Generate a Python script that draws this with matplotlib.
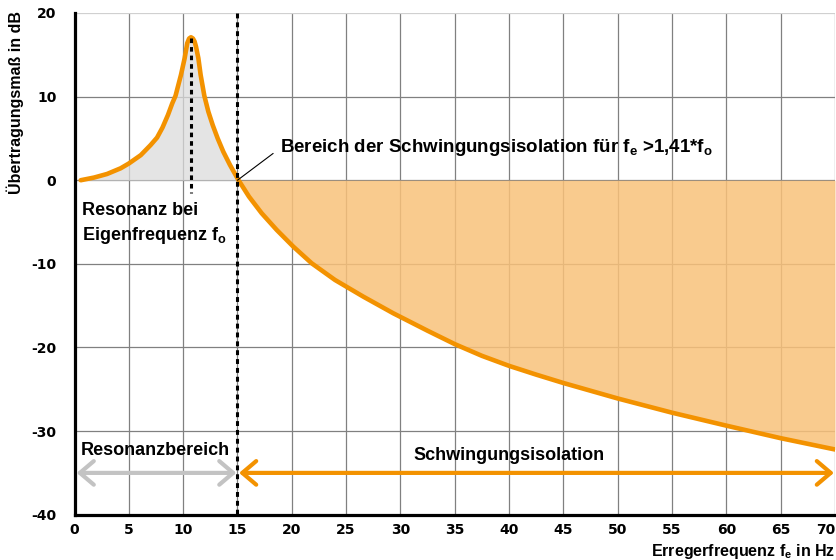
import numpy as np
import matplotlib
matplotlib.use("Agg")
import matplotlib.pyplot as plt
from matplotlib.patches import FancyArrowPatch

# ---- data ----
freq_hz = [0.57, 1.8, 3.0, 4.25, 5.0, 6.1, 7.0, 7.6, 8.1, 8.6, 9.0, 9.3, 9.8,
           10.14, 10.38, 10.55, 10.72, 10.9, 11.05, 11.18, 11.4, 11.61, 11.95,
           12.32, 12.72, 13.18, 13.7, 14.31, 15.1, 16.06, 17.23, 18.61, 20.14,
           21.83, 23.98, 26.58, 29.34, 32.5, 35.0, 37.5, 40.0, 42.5, 45.0, 50.0,
           55.0, 60.0, 65.0, 70.0]
gain_db = [0.0, 0.32, 0.75, 1.43, 2.0, 3.0, 4.2, 5.1, 6.3, 7.8, 9.2, 10.1, 12.6,
           14.6, 16.4, 16.95, 17.1, 16.95, 16.6, 16.0, 14.6, 12.6, 10.1,
           8.2, 6.6, 5.0, 3.4, 1.83, 0.0, -1.96, -3.95, -5.94, -7.94,
           -9.93, -11.93, -13.92, -15.91, -18.0, -19.6, -21.0, -22.2, -23.25, -24.25,
           -26.1, -27.8, -29.35, -30.85, -32.2]
crossing_hz = 15.1
boundary_hz = 15.0
peak_hz = 10.72
peak_db = 17.0
band_db = -35.0
resonance_band = [0.2, 14.9]
isolation_band = [15.15, 70.0]
x_ticks = [0, 5, 10, 15, 20, 25, 30, 35, 40, 45, 50, 55, 60, 65, 70]
y_ticks = [-40, -30, -20, -10, 0, 10, 20]

ORANGE = "#F39200"
ORANGE_FILL = "#F9C27A"
GRAY_FILL = "#DCDCDC"
GRAY_ARROW = "#C3C3C3"

plt.rcParams['font.family'] = ['Liberation Sans', 'DejaVu Sans']
plt.rcParams['font.weight'] = 'bold'
plt.rcParams['mathtext.fontset'] = 'custom'
plt.rcParams['mathtext.rm'] = 'Liberation Sans:bold'
plt.rcParams['mathtext.it'] = 'Liberation Sans:bold'
plt.rcParams['mathtext.bf'] = 'Liberation Sans:bold'
plt.rcParams['axes.unicode_minus'] = False

W, H = 836, 560
fig = plt.figure(figsize=(W / 100, H / 100), dpi=100)
L, R, T, B = 74.5, 835.0, 13.0, 514.7
ax = fig.add_axes([L / W, 1 - B / H, (R - L) / W, (B - T) / H])
ax.set_xlim(0, 70)
ax.set_ylim(-40, 20)

f = np.array(freq_hz)
g = np.array(gain_db)

# grid
ax.set_xticks(x_ticks)
ax.set_yticks(y_ticks)
ax.grid(True, color="#808080", lw=0.9, zorder=0)
ax.set_axisbelow(True)
ax.yaxis.get_gridlines()[-1].set_color("#D0D0D0")
ax.yaxis.get_gridlines()[-1].set_linewidth(1.6)

# fills
ax.fill_between(f, g, 0, where=f <= crossing_hz, color=GRAY_FILL, alpha=0.75,
                lw=0, zorder=1)
ax.fill_between(f, g, 0, where=f >= crossing_hz, color=ORANGE_FILL, alpha=0.85,
                lw=0, zorder=1)

# curve
ax.plot(f, g, color=ORANGE, lw=3.3, solid_joinstyle='round',
        solid_capstyle='round', zorder=4)

# dashed verticals
ax.plot([peak_hz, peak_hz], [peak_db, -1.5], color="black", lw=2.2,
        linestyle=(0, (1.5, 1.3)), zorder=5)
ax.plot([boundary_hz, boundary_hz], [20, -40], color="black", lw=2.2,
        linestyle=(0, (1.6, 1.3)), zorder=5, clip_on=False)

# arrows
a1 = FancyArrowPatch((resonance_band[0], band_db), (resonance_band[1], band_db),
                     arrowstyle="<->,head_length=10,head_width=8.5",
                     mutation_scale=1, color=GRAY_ARROW, lw=3.0,
                     shrinkA=0, shrinkB=0, zorder=4)
ax.add_patch(a1)
a2 = FancyArrowPatch((isolation_band[0], band_db), (isolation_band[1] - 0.1, band_db),
                     arrowstyle="<->,head_length=10,head_width=8.5",
                     mutation_scale=1, color=ORANGE, lw=3.0,
                     shrinkA=0, shrinkB=0, zorder=4, clip_on=False)
ax.add_patch(a2)

# texts
ax.text(0.66, -4.15, "Resonanz bei", fontsize=13, ha="left", va="baseline")
ax.text(0.66, -7.1, r"Eigenfrequenz f$_\mathrm{o}$", fontsize=13, ha="left",
        va="baseline")
ax.text(7.41, -32.86, "Resonanzbereich", fontsize=13, ha="center", va="baseline")
ax.text(40.04, -33.4, "Schwingungsisolation", fontsize=13, ha="center",
        va="baseline")
ax.annotate(r"Bereich der Schwingungsisolation für f$_\mathrm{e}$ >1,41*f$_\mathrm{o}$",
            xy=(boundary_hz, 0.0), xytext=(18.92, 3.42), fontsize=13.5,
            ha="left", va="baseline",
            arrowprops=dict(arrowstyle="-", color="black", lw=0.8,
                            shrinkA=0, shrinkB=0,
                            relpos=(-0.016, 0.2)),
            zorder=6)

# spines / ticks
for s in ("top", "right"):
    ax.spines[s].set_visible(False)
for s in ("left", "bottom"):
    ax.spines[s].set_color("black")
    ax.spines[s].set_linewidth(2.3)
    ax.spines[s].set_zorder(6)
ax.tick_params(axis="both", length=0)
ax.tick_params(axis="x", pad=6)
ax.tick_params(axis="y", pad=13)
for lab in ax.get_xticklabels() + ax.get_yticklabels():
    lab.set_fontfamily("DejaVu Sans")
    lab.set_fontweight("bold")
    lab.set_fontsize(10)
ax.get_xticklabels()[-1].set_horizontalalignment("right")

fig.text(15 / W, 1 - 103 / H, "Übertragungsmaß in dB", rotation=90,
         ha="center", va="center", fontsize=11.5)
fig.text(835 / W, 1 - 556 / H, r"Erregerfrequenz f$_\mathrm{e}$ in Hz",
         ha="right", va="baseline", fontsize=11.5)

fig.savefig("out.png", dpi=100)
